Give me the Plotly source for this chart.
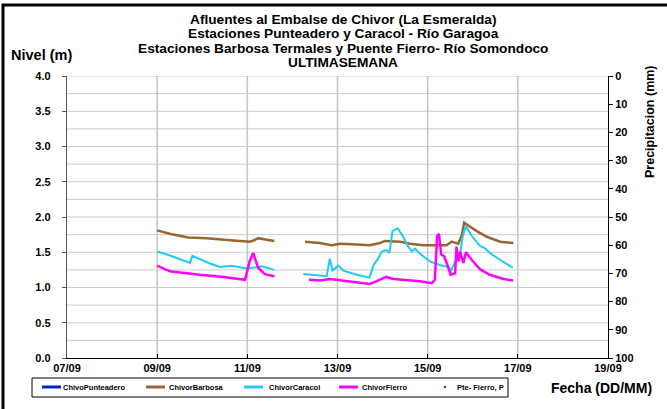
import pandas as pd
import plotly.graph_objects as go

# ---------------- data (day of September, fractional) ----------------
barbosa_day = [9.0, 9.3, 9.69, 10.1, 10.62, 11.06, 11.15, 11.24, 11.4, 11.6, None,
               12.28, 12.61, 12.87, 13.06, 13.43, 13.72, 13.94, 14.05, 14.39, 14.61, 14.9,
               15.2, 15.42, 15.53, 15.68, 15.76, 15.81, 15.9, 16.09, 16.31, 16.61, 16.9]
barbosa_val = [1.81, 1.76, 1.71, 1.70, 1.67, 1.65, 1.67, 1.70, 1.68, 1.66, None,
               1.65, 1.63, 1.60, 1.62, 1.61, 1.60, 1.63, 1.66, 1.65, 1.62, 1.60,
               1.60, 1.60, 1.65, 1.62, 1.75, 1.92, 1.88, 1.80, 1.72, 1.65, 1.63]

caracol_day = [9.0, 9.3, 9.73, 9.78, 10.17, 10.39, 10.65, 10.99, 11.32, 11.6, None,
               12.24, 12.5, 12.76, 12.83, 12.89, 13.02, 13.13, 13.43, 13.71, 13.80, 13.91,
               13.98, 14.09, 14.15, 14.22, 14.33, 14.43, 14.54, 14.65, 14.72, 14.83, 15.05,
               15.27, 15.46, 15.52, 15.61, 15.72, 15.78, 15.85, 15.98, 16.16, 16.27, 16.38,
               16.61, 16.89]
caracol_val = [1.51, 1.45, 1.35, 1.45, 1.34, 1.29, 1.31, 1.27, 1.30, 1.25, None,
               1.19, 1.17, 1.16, 1.41, 1.24, 1.31, 1.24, 1.18, 1.14, 1.32, 1.42,
               1.51, 1.53, 1.49, 1.80, 1.84, 1.75, 1.61, 1.51, 1.55, 1.48, 1.37,
               1.32, 1.29, 1.24, 1.37, 1.48, 1.73, 1.87, 1.73, 1.59, 1.56, 1.49,
               1.39, 1.28]

fierro_day = [9.0, 9.28, 9.95, 10.47, 10.95, 10.99, 11.05, 11.13, 11.24, 11.39, 11.6, None,
              12.37, 12.61, 12.83, 13.28, 13.72, 13.87, 14.08, 14.24, 14.46, 14.83, 15.09,
              15.16, 15.21, 15.25, 15.30, 15.37, 15.46, 15.51, 15.61, 15.64, 15.68, 15.72,
              15.79, 15.85, 15.98, 16.16, 16.38, 16.68, 16.9]
fierro_val = [1.31, 1.23, 1.18, 1.15, 1.11, 1.20, 1.37, 1.49, 1.28, 1.19, 1.16, None,
              1.11, 1.10, 1.12, 1.09, 1.05, 1.09, 1.15, 1.12, 1.11, 1.09, 1.06,
              1.11, 1.73, 1.76, 1.47, 1.44, 1.28, 1.18, 1.20, 1.58, 1.37, 1.51,
              1.35, 1.50, 1.39, 1.26, 1.18, 1.12, 1.10]

# no readable data for these two series in the picture
punteadero_day = [None]
punteadero_val = [None]
precip_day = [None]
precip_val = [None]

series_names = ["ChivoPunteadero", "ChivorBarbosa", "ChivorCaracol", "ChivorFierro", "Pte- Fierro, P"]

x_tick_days = [7, 9, 11, 13, 15, 17, 19]
x_tick_labels = ["07/09", "09/09", "11/09", "13/09", "15/09", "17/09", "19/09"]
y_grid_vals = [0.25 * i for i in range(17)]

title_lines = ["Afluentes al Embalse de Chivor (La Esmeralda)",
               "Estaciones Punteadero y Caracol - Río Garagoa",
               "Estaciones Barbosa Termales y Puente Fierro- Río Somondoco",
               "ULTIMASEMANA"]

BASE = pd.Timestamp("2014-09-01")


def to_dt(days):
    return [None if d is None else (BASE + pd.Timedelta(days=d - 1)).strftime("%Y-%m-%d %H:%M")
            for d in days]


# ---------------- geometry helpers ----------------
W, H = 667, 409
L, R, T, B = 67, 608, 76, 358


def px(x):
    return (x - L) / (R - L)


def py(y):
    return (B - y) / (B - T)


FONT = "Liberation Sans, Arial, sans-serif"
COLORS = ["#0022DD", "#996633", "#1ECBF5", "#FF00FF", "#008000"]

fig = go.Figure()
fig.add_trace(go.Scatter(x=to_dt(punteadero_day), y=punteadero_val, name=series_names[0],
                         mode="lines", line=dict(color=COLORS[0], width=2.5)))
fig.add_trace(go.Scatter(x=to_dt(barbosa_day), y=barbosa_val, name=series_names[1],
                         mode="lines", line=dict(color=COLORS[1], width=2.5), connectgaps=False))
fig.add_trace(go.Scatter(x=to_dt(caracol_day), y=caracol_val, name=series_names[2],
                         mode="lines", line=dict(color=COLORS[2], width=2), connectgaps=False))
fig.add_trace(go.Scatter(x=to_dt(fierro_day), y=fierro_val, name=series_names[3],
                         mode="lines", line=dict(color=COLORS[3], width=2.5), connectgaps=False))
fig.add_trace(go.Scatter(x=to_dt(precip_day), y=precip_val, name=series_names[4],
                         mode="markers", marker=dict(color=COLORS[4], size=3), yaxis="y2"))

tickvals = to_dt(x_tick_days)

# horizontal grid lines (every 0.25 m)
for v in y_grid_vals[1:]:
    fig.add_hline(y=v, line=dict(color="#cccccc", width=1), layer="below")
# vertical grid lines
for tv in tickvals[1:-1]:
    fig.add_vline(x=tv, line=dict(color="#c4c4c4", width=1.5), layer="below")

fig.update_layout(
    width=W, height=H,
    margin=dict(l=L, r=W - R, t=T, b=H - B, autoexpand=False),
    paper_bgcolor="white", plot_bgcolor="white",
    font=dict(family=FONT, color="black"),
    showlegend=False,
    xaxis=dict(
        type="date",
        range=[tickvals[0], tickvals[-1]],
        tickvals=tickvals, ticktext=x_tick_labels,
        tickfont=dict(size=11, family=FONT, weight="bold"),
        showgrid=False,
        showline=True, linecolor="black", linewidth=1,
        ticks="inside", ticklen=4, tickcolor="black",
        zeroline=False,
    ),
    yaxis=dict(
        range=[0, 4], dtick=0.5, tickformat=".1f",
        tickfont=dict(size=11, family=FONT, weight="bold"),
        showgrid=False,
        showline=True, linecolor="#555555", linewidth=1.3,
        ticks="outside", ticklen=4, tickcolor="#555555",
        ticklabelstandoff=9,
        zeroline=False,
    ),
    yaxis2=dict(
        overlaying="y", side="right", range=[100, 0], dtick=10,
        tickfont=dict(size=11, family=FONT, weight="bold"),
        showgrid=False, showline=True, linecolor="black", linewidth=1,
        ticks="outside", ticklen=4, tickcolor="black", zeroline=False,
    ),
)

# ---- legend box (drawn by hand to match the compact original) ----
LEG_Y = 387
fig.add_shape(type="rect", xref="paper", yref="paper",
              x0=px(32), x1=px(508), y0=py(397), y1=py(378),
              line=dict(color="black", width=1), fillcolor="white", layer="above")
leg_sym_x = [42, 146, 244, 339, 445]
leg_txt_x = [61, 167, 267, 360, 455]
for i, name in enumerate(series_names):
    if i < 4:
        fig.add_shape(type="line", xref="paper", yref="paper",
                      x0=px(leg_sym_x[i]), x1=px(leg_sym_x[i] + 19), y0=py(LEG_Y), y1=py(LEG_Y),
                      line=dict(color=COLORS[i], width=3), layer="above")
    else:
        fig.add_shape(type="circle", xref="paper", yref="paper",
                      x0=px(leg_sym_x[i] - 1.3), x1=px(leg_sym_x[i] + 1.3),
                      y0=py(LEG_Y + 1.3), y1=py(LEG_Y - 1.3),
                      line=dict(color=COLORS[i], width=0), fillcolor=COLORS[i], layer="above")
    fig.add_annotation(x=px(leg_txt_x[i]), y=py(LEG_Y), xref="paper", yref="paper",
                       text="<b>%s</b>" % name, showarrow=False,
                       font=dict(size=7.5, family=FONT), xanchor="left", yanchor="middle")

# title
for i, line in enumerate(title_lines):
    fig.add_annotation(x=px(343), y=py(20 + i * 14), xref="paper", yref="paper",
                       text="<b>%s</b>" % line, showarrow=False,
                       font=dict(size=13.7, family=FONT), xanchor="center", yanchor="middle")

fig.add_annotation(x=px(9), y=py(55), xref="paper", yref="paper", text="<b>Nivel (m)</b>",
                   showarrow=False, font=dict(size=14.5, family=FONT), xanchor="left", yanchor="middle")
fig.add_annotation(x=px(650), y=py(122), xref="paper", yref="paper",
                   text="<b>Precipitacion (mm)</b>", textangle=-90, showarrow=False,
                   font=dict(size=12.5, family=FONT), xanchor="center", yanchor="middle")
fig.add_annotation(x=px(654), y=py(388), xref="paper", yref="paper", text="<b>Fecha (DD/MM)</b>",
                   showarrow=False, font=dict(size=14, family=FONT), xanchor="right", yanchor="middle")

# outer frame
fig.add_shape(type="rect", xref="paper", yref="paper",
              x0=px(3), x1=px(672), y0=py(414), y1=py(5),
              line=dict(color="black", width=3), fillcolor="rgba(0,0,0,0)", layer="above")

fig.write_html("out.html", config={"displayModeBar": False},
               post_script="document.body.style.margin='0px';document.body.style.padding='0px';")
